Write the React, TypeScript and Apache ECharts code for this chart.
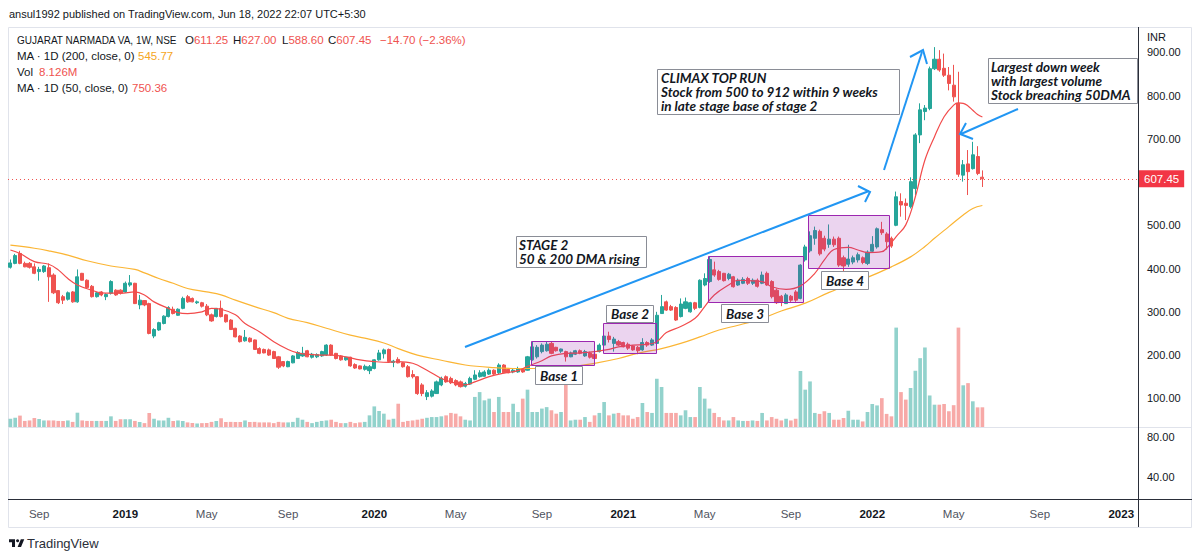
import React, { useEffect, useRef } from 'react';
import * as echarts from 'echarts';

// ---------- data ----------
const FIRST_MONDAY = Date.UTC(2018, 6, 16);
const WEEK_COUNT = 236;
const weeks: string[] = [];
for (let i = 0; i < WEEK_COUNT; i++) {
  weeks.push(new Date(FIRST_MONDAY + i * 7 * 86400000).toISOString().slice(0, 10));
}

// [open, close, low, high]
const candles: number[][] = [
  [403,413,400,421],[412,430,410,434],[435,412,410,441],[412,404,403,416],[412,403,400,415],
  [404,389,387,412],[393,398,372,404],[393,406,390,408],[402,381,323,412],[385,344,341,389],
  [349,321,318,350],[335,327,318,339],[329,344,326,347],[346,323,321,348],[323,381,321,398],
  [389,373,372,390],[373,356,354,375],[359,335,333,362],[335,344,333,346],[346,339,336,348],
  [335,340,327,343],[343,370,340,373],[350,339,337,352],[350,343,340,352],[346,366,344,370],
  [362,367,358,385],[366,319,318,367],[316,327,306,339],[326,316,313,327],[319,250,248,321],
  [244,259,239,262],[258,275,256,277],[273,290,271,292],[289,310,287,313],[306,296,294,312],
  [292,306,291,308],[308,331,306,335],[335,323,321,339],[331,323,322,333],[321,323,318,326],
  [321,313,310,323],[313,293,290,318],[293,279,277,296],[289,308,287,309],[308,289,287,326],
  [293,277,275,295],[281,259,258,283],[262,242,241,263],[244,231,229,246],[233,241,231,258],
  [239,231,229,241],[235,213,212,236],[215,204,202,218],[213,205,204,215],[212,200,198,215],
  [208,192,191,210],[196,172,168,198],[185,175,172,186],[173,185,172,187],[182,198,181,200],
  [192,206,191,209],[198,204,196,219],[210,196,195,212],[195,202,192,205],[196,201,193,204],
  [198,208,196,210],[200,223,198,225],[223,200,198,225],[204,192,190,205],[198,189,187,200],
  [189,195,187,196],[195,175,173,196],[178,170,168,181],[175,168,167,176],[167,174,164,178],
  [164,173,156,177],[169,189,167,190],[189,205,187,212],[203,212,192,215],[213,185,183,215],
  [183,186,172,189],[190,182,181,195],
  [182,173,171,184],[173,150,148,177],[155,150,146,165],[150,111,108,151],[131,111,105,135],
  [104,113,96,119],[105,117,102,121],[111,138,110,141],[131,146,128,150],[150,138,136,153],
  [146,136,133,150],[141,131,128,144],[138,127,125,141],[128,134,125,138],[133,146,131,150],
  [144,154,142,165],[150,159,148,165],[151,161,150,165],[156,165,154,169],[165,156,154,167],
  [159,177,156,181],[177,159,158,179],[167,159,158,169],[161,165,158,169],[161,169,159,173],
  [167,161,159,170],[165,196,164,198],[189,219,187,231],[196,218,192,223],[208,223,204,227],
  [210,225,208,231],[227,204,202,231],[218,210,208,219],[209,214,205,215],[208,196,185,210],
  [196,205,195,208],[202,210,200,212],[210,204,202,213],[198,208,196,212],[205,195,192,208],
  [202,192,190,205],[208,223,206,227],[223,244,221,254],[244,236,229,254],[227,237,208,242],
  [231,223,221,235],[229,219,218,231],[225,216,212,229],[221,212,210,223],[218,210,202,221],
  [212,229,210,239],[229,223,219,232],[223,235,221,239],[227,292,225,300],[296,312,295,339],
  [323,304,302,326],[312,304,302,316],[310,281,279,313],[289,318,287,331],[308,323,306,333],
  [300,321,298,323],[321,308,304,323],[310,373,308,375],[362,377,359,389],[370,421,367,429],
  [397,385,381,416],[393,375,372,397],[389,372,370,390],[377,387,373,390],[381,358,356,383],
  [362,373,360,377],[366,375,364,380],[377,366,362,381],[366,373,362,377],[373,359,356,377],
  [366,385,364,393],[389,362,360,393],[370,335,331,373],[350,321,318,354],[336,323,313,339],
  [319,339,318,343],[336,327,323,339],[346,327,323,350],[331,408,329,410],
  [420,450,416,455],[441,476,437,486],[470,488,455,497],[486,434,430,490],[470,445,440,476],
  [456,468,448,502],[468,455,450,474],[470,408,404,474],[425,406,392,430],[410,422,404,455],
  [415,425,410,430],[420,432,414,437],[425,414,410,428],[412,438,408,442],[440,456,436,475],
  [450,492,446,495],[490,483,478,508],[480,462,444,484],[470,452,448,474],[500,566,498,578],
  [555,547,520,574],[551,546,512,562],[543,601,539,611],[585,709,570,713],[709,767,690,782],
  [763,771,743,778],[770,862,766,867],[862,884,859,912],[884,859,855,905],[863,847,843,897],
  [847,828,812,866],[824,797,786,871],[782,618,612,855],[616,640,601,651],[642,624,570,674],
  [631,663,629,693],[659,620,616,683],[611.25,607.45,588.6,627]
];

// weekly volume, millions
const volumes: number[] = [
  3.4,3.8,4.7,2.5,2.7,3.7,3.3,2.7,2.7,2.7, 2.5,2.5,2.7,2.1,5.9,2.7,2.5,2.5,2.5,2.5,
  2.5,4.4,2.5,3.2,3.2,3.2,2.5,2.1,1.6,5.8, 3.4,2.7,2.7,3.8,2.5,2.7,2.5,1.9,1.6,1.4,
  1.6,1.6,2.1,2.5,3.6,2.1,2.1,2.1,2.1,2.7, 2.1,2.1,1.9,1.9,1.9,1.6,2.1,1.9,1.9,2.1,
  3.8,3.0,2.1,1.6,2.1,2.5,2.7,3.0,2.1,1.6, 1.6,2.1,1.6,1.9,2.1,4.8,8.5,6.6,5.5,3.0,
  3.4,9.6,
  2.1,2.5,2.7,3.0,3.4,3.8,4.1,4.1,4.4,4.8, 5.8,5.5,4.4,3.0,2.7,12.4,14.4,11,11.7,6.2,
  12.4,6.2,6.2,9.6,6.2,11.7,15.4,6.2,6.2,7.6, 8.2,6.9,5.5,6.2,18.1,2.7,3.0,3.0,4.1,2.1,
  4.8,5.8,10.3,4.8,5.5,5.8,4.8,4.8,3.4,4.1, 9.9,6.2,5.8,19.9,16.5,5.8,5.8,5.8,4.8,6.9,
  4.1,4.1,16.5,11.7,7.6,5.8,4.1,2.7,2.7,4.1, 2.7,2.5,2.5,2.7,2.5,5.8,2.7,4.1,3.4,2.7,
  3.4,2.7,3.4,23.1,
  15.4,18.8,5.8,5.4,6.5,5.8,3.0,3.0,3.7,6.7, 3.0,3.0,2.3,6.2,9.5,8.9,11.9,5.4,4.4,41,
  14.4,11.3,16.1,23.2,28.4,32.8,13,9.2,9.2,9.5, 6.5,9.0,41,17.2,18.1,10.6,8.1,8.126
];

// [week index, value] readings of the moving averages
const ma50: number[][] = [
  [0,443],[2,435],[5,416],[8,410],[10,397],[12,377],[14,362],[17,350],[19,344],[21,343],[23,343],
  [26,346],[28,339],[30,323],[33,308],[35,298],[37,296],[40,300],[42,308],[44,306],[47,293],[49,273],
  [52,254],[55,231],[58,213],[60,205],[62,202],[65,200],[67,200],[70,196],[73,189],[76,185],[79,183],
  [81,185],[84,181],[87,165],[90,146],[92,138],[95,131],[97,138],[100,150],[103,158],[106,164],
  [108,174],[111,187],[113,198],[116,204],[119,205],[122,208],[125,213],[127,219],[130,223],[133,225],
  [135,231],[137,252],[140,266],[143,285],[145,312],[147,339],[150,362],[152,373],[154,372],[157,370],
  [159,358],[162,352],[165,360],[168,389],[170,420],[172,444],[175,449],[177,443],[179,437],[182,439],
  [183,447],[185,474],[187,501],[189,566],[191,651],[193,705],[195,751],[197,778],[198,783],[199,782],
  [200,776],[201,766],[202,756],[203,750.36]
];
const ma200: number[][] = [
  [0,454],[5,447],[8,441],[12,431],[16,418],[21,406],[26,398],[28,390],[31,377],[34,366],[37,354],
  [41,346],[44,339],[47,327],[51,312],[55,298],[58,285],[62,275],[66,262],[71,246],[74,239],[78,228],
  [81,215],[85,200],[90,188],[95,177],[101,171],[106,169],[111,169],[116,171],[122,181],[127,192],
  [131,204],[136,215],[140,227],[144,242],[148,258],[152,269],[157,285],[161,302],[166,320],[171,345],
  [178,375],[184,404],[188,427],[191,451],[193,470],[196,497],[199,524],[201,539],[203,545.77]
];

const priceTicks = [100, 200, 300, 400, 500, 700, 800, 900];
const paneTicks = [40, 80];
const lastClose = 607.45;
const MONTHS = ['Jan','Feb','Mar','Apr','May','Jun','Jul','Aug','Sep','Oct','Nov','Dec'];

function weekLabel(s: string): string | null {
  const d = new Date(s + 'T00:00:00Z');
  const end = new Date(d.getTime() + 6 * 86400000);
  let m: number, y: number;
  if (d.getUTCDate() === 1) { m = d.getUTCMonth(); y = d.getUTCFullYear(); }
  else if (end.getUTCMonth() !== d.getUTCMonth()) { m = end.getUTCMonth(); y = end.getUTCFullYear(); }
  else return null;
  if (m === 0) return '{y|' + y + '}';
  if (m === 4 || m === 8) return '{m|' + MONTHS[m] + '}';
  return null;
}

// ---------- styling ----------
const UP = '#26a69a';
const DOWN = '#ef5350';
const UP_A = 'rgba(38,166,154,0.5)';
const DOWN_A = 'rgba(239,83,80,0.5)';
const TXT = '#131722';
const BLUE = '#2196f3';
const UI_FONT = 'Liberation Sans';
const NOTE_FONT = 'italic bold 13.5px Lato';

const tvLogo = echarts.graphic.extendPath('M14 22H7V11H0V4h14v18zM28 22h-8l7.5-18h8L28 22z', {});
echarts.graphic.registerShape('tvlogo', tvLogo as any);

function txt(x: number, y: number, text: string, fill: string, font: string, align = 'left', z = 100) {
  return {
    type: 'text', x, y, z,
    style: { text, fill, font, textAlign: align, align, textVerticalAlign: 'middle', verticalAlign: 'middle' },
  };
}
function pair(x: number, y: number, key: string, value: string, font: string) {
  return {
    type: 'text', x, y, z: 100,
    style: {
      text: `{d|${key}}{r|${value}}`,
      rich: { d: { fill: TXT, font }, r: { fill: DOWN, font } },
      font, textVerticalAlign: 'middle', verticalAlign: 'middle',
    },
  };
}
function box(x: number, y: number, w: number, h: number, fill: string, stroke: string, z = 90) {
  return { type: 'rect', z, shape: { x, y, width: w, height: h }, style: { fill, stroke, lineWidth: 1 } };
}
function seg(x1: number, y1: number, x2: number, y2: number, stroke: string, w = 1, z = 95) {
  return { type: 'line', z, shape: { x1, y1, x2, y2 }, style: { stroke, lineWidth: w } };
}
function poly(points: number[][], stroke: string, w = 2) {
  return { type: 'polyline', z: 95, shape: { points }, style: { stroke, lineWidth: w, fill: null } };
}

export default function App() {
  const ref = useRef<HTMLDivElement>(null);
  useEffect(() => {
    const chart = echarts.init(ref.current!, null, { renderer: 'svg' });
    const uiFont = (s: number) => `${s}px "${UI_FONT}"`;
    const lf = uiFont(11.5);
    const baseBoxFill = 'rgba(156,39,176,0.2)';
    const baseBoxStroke = '#9c27b0';
    const labelStroke = '#8a8d96';

    const graphic: any[] = [
      // frame
      box(8.5, 27.5, 1183, 500, 'none', '#e0e3eb', 1),
      seg(8, 427.5, 1192, 427.5, '#e0e3eb', 1, 1),
      seg(8, 499.5, 1192, 499.5, '#2a2e39', 1, 1),
      seg(1138.5, 27, 1138.5, 527, '#2a2e39', 1, 1),
      // header
      txt(9, 14, 'ansul1992 published on TradingView.com, Jun 18, 2022 22:07 UTC+5:30', TXT, uiFont(11)),
      txt(17, 40, 'GUJARAT NARMADA VA, 1W, NSE', TXT, uiFont(10)),
      pair(185, 40, 'O', '611.25', lf),
      pair(233, 40, 'H', '627.00', lf),
      pair(282, 40, 'L', '588.60', lf),
      pair(328, 40, 'C', '607.45', lf),
      txt(380, 40, '−14.70 (−2.36%)', DOWN, lf),
      txt(17, 56, 'MA · 1D (200, close, 0)', TXT, lf),
      txt(138, 56, '545.77', '#f5a623', lf),
      txt(17, 72, 'Vol', TXT, lf),
      txt(39, 72, '8.126M', DOWN, lf),
      txt(17, 88, 'MA · 1D (50, close, 0)', TXT, lf),
      txt(132, 88, '750.36', DOWN, lf),
      txt(1147, 37, 'INR', TXT, uiFont(11)),
      // base boxes
      box(531.5, 341.5, 63, 24, baseBoxFill, baseBoxStroke, 80),
      box(603.5, 323.5, 53, 30, baseBoxFill, baseBoxStroke, 80),
      box(708.5, 256.5, 95, 46, baseBoxFill, baseBoxStroke, 80),
      box(808.5, 215.5, 81, 53, baseBoxFill, baseBoxStroke, 80),
      box(535.5, 366.5, 47, 18, '#fff', labelStroke),
      txt(559, 375.5, 'Base 1', TXT, NOTE_FONT, 'center'),
      box(606.5, 305.5, 47, 17, '#fff', labelStroke),
      txt(630, 314, 'Base 2', TXT, NOTE_FONT, 'center'),
      box(721.5, 304.5, 47, 18, '#fff', labelStroke),
      txt(745, 313.5, 'Base 3', TXT, NOTE_FONT, 'center'),
      box(821.5, 271.5, 47, 18, '#fff', labelStroke),
      txt(845, 280.5, 'Base 4', TXT, NOTE_FONT, 'center'),
      // text notes
      box(516.5, 236.5, 130, 31, '#fff', labelStroke),
      txt(519, 244.5, 'STAGE 2', TXT, NOTE_FONT),
      txt(519, 258.5, '50 & 200 DMA rising', TXT, NOTE_FONT),
      box(657.5, 69.5, 242, 45, '#fff', labelStroke),
      txt(661, 77.5, 'CLIMAX TOP RUN', TXT, NOTE_FONT),
      txt(661, 91.5, 'Stock from 500 to 912 within 9 weeks', TXT, NOTE_FONT),
      txt(661, 105.5, 'in late stage base of stage 2', TXT, NOTE_FONT),
      box(988.5, 58.5, 149, 45, '#fff', labelStroke),
      txt(991, 66.5, 'Largest down week', TXT, NOTE_FONT),
      txt(991, 80.5, 'with largest volume', TXT, NOTE_FONT),
      txt(991, 94.5, 'Stock breaching 50DMA', TXT, NOTE_FONT),
      // arrows
      seg(465, 347, 869, 191, BLUE, 2),
      poly([[858, 186], [870, 192], [865, 202]], BLUE),
      seg(884, 170, 922, 52, BLUE, 2),
      poly([[910, 57], [923, 50], [927, 64]], BLUE),
      seg(1018, 109, 961, 134, BLUE, 2),
      poly([[966, 123], [960, 134], [973, 139]], BLUE),
      // footer logo
      { type: 'tvlogo', x: 9, y: 537.5, scaleX: 0.43, scaleY: 0.43, z: 100, style: { fill: TXT } },
      { type: 'circle', z: 100, shape: { cx: 9 + 20 * 0.43, cy: 537.5 + 7.5 * 0.43, r: 3.6 * 0.43 }, style: { fill: TXT } },
      txt(27, 543.5, 'TradingView', '#2a2e39', uiFont(13)),
    ];

    const gridLeft = 8;
    const gridRight = 62;
    const xCommon = {
      type: 'category',
      data: weeks,
      boundaryGap: true,
      axisTick: { show: false },
      axisLine: { show: false },
      splitLine: { show: false },
    };

    const option: any = {
      animation: false,
      backgroundColor: '#ffffff',
      grid: [
        { left: gridLeft, right: gridRight, top: 27, height: 400 },
        { left: gridLeft, right: gridRight, top: 27, height: 400 },
        { left: gridLeft, right: gridRight, top: 427, height: 72 },
      ],
      xAxis: [
        { ...xCommon, gridIndex: 0, axisLabel: { show: false } },
        { ...xCommon, gridIndex: 1, axisLabel: { show: false } },
        {
          ...xCommon,
          gridIndex: 2,
          axisLabel: {
            show: true,
            margin: 9,
            interval: (i: number) => weekLabel(weeks[i]) !== null,
            formatter: (v: string) => weekLabel(v) || '',
            rich: {
              y: { fontFamily: UI_FONT, fontSize: 11.5, fontWeight: 'bold', color: TXT },
              m: { fontFamily: UI_FONT, fontSize: 11.5, color: '#50535e' },
            },
          },
        },
      ],
      yAxis: [
        {
          type: 'value', gridIndex: 0, position: 'right', min: 33.7, max: 958.5,
          splitLine: { show: false }, axisLine: { show: false }, axisTick: { show: false },
          axisLabel: {
            show: true, customValues: priceTicks, margin: 9,
            formatter: (v: number) => v.toFixed(2), color: TXT, fontFamily: UI_FONT, fontSize: 11,
          },
        },
        { type: 'value', gridIndex: 1, min: 0, max: 165, show: false },
        {
          type: 'value', gridIndex: 2, position: 'right', min: 17.7, max: 89.7,
          splitLine: { show: false }, axisLine: { show: false }, axisTick: { show: false },
          axisLabel: {
            show: true, customValues: paneTicks, margin: 9,
            formatter: (v: number) => v.toFixed(2), color: TXT, fontFamily: UI_FONT, fontSize: 11,
          },
        },
      ],
      graphic: { elements: graphic },
      series: [
        {
          type: 'bar', name: 'Vol', xAxisIndex: 1, yAxisIndex: 1, z: 1,
          barWidth: '76%',
          data: volumes.map((v, i) => ({
            value: v,
            itemStyle: { color: candles[i][1] >= candles[i][0] ? UP_A : DOWN_A },
          })),
        },
        {
          type: 'candlestick', name: 'GNFC', xAxisIndex: 0, yAxisIndex: 0, z: 3,
          barWidth: 3.6,
          data: candles,
          itemStyle: { color: UP, color0: DOWN, borderColor: UP, borderColor0: DOWN, borderWidth: 1 },
          markLine: {
            silent: true, symbol: 'none',
            lineStyle: { color: DOWN, type: [1, 3], width: 1 },
            label: {
              show: true, position: 'end', distance: 1,
              formatter: () => lastClose.toFixed(2),
              backgroundColor: '#f23645', color: '#ffffff',
              padding: [3, 5, 2, 5], fontFamily: UI_FONT, fontSize: 11.5,
            },
            data: [{ yAxis: lastClose }],
          },
        },
        {
          type: 'line', name: 'MA200', xAxisIndex: 0, yAxisIndex: 0, z: 4,
          data: ma200, showSymbol: false, smooth: 0.4,
          lineStyle: { color: '#fbb534', width: 1.2 },
        },
        {
          type: 'line', name: 'MA50', xAxisIndex: 0, yAxisIndex: 0, z: 4,
          data: ma50, showSymbol: false, smooth: 0.4,
          lineStyle: { color: '#f24b4b', width: 1.2 },
        },
        { type: 'line', xAxisIndex: 2, yAxisIndex: 2, data: [], showSymbol: false },
      ],
    };
    chart.setOption(option);
    return () => chart.dispose();
  }, []);
  return (
    <div
      ref={ref}
      style={{ position: 'fixed', left: 0, top: 0, width: 1200, height: 558, background: '#fff' }}
    />
  );
}
